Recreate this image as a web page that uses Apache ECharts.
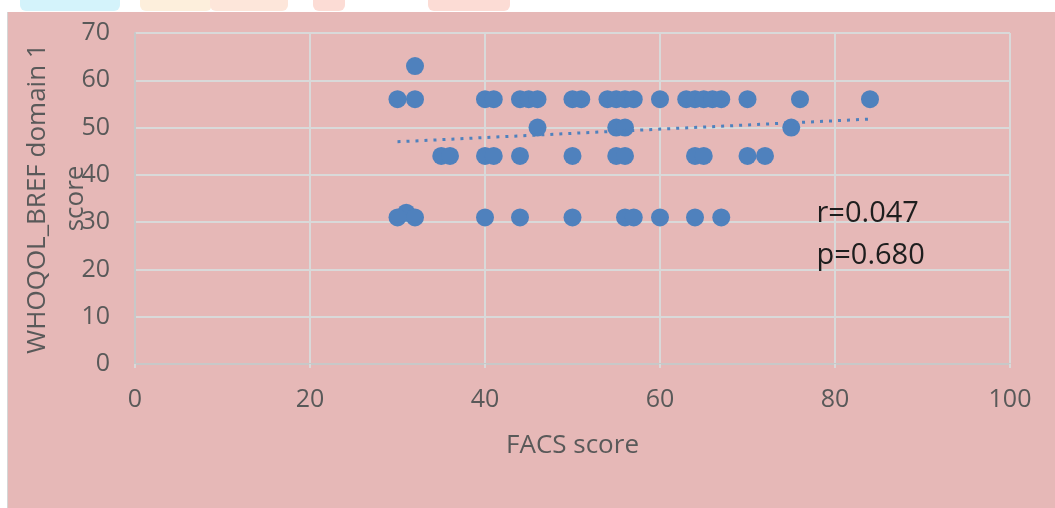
<!DOCTYPE html>
<html>
<head>
<meta charset="utf-8">
<script src="https://cdn.jsdelivr.net/npm/echarts@6/dist/echarts.min.js"></script>
<style>
  body { margin: 0; background: #fff; width: 1055px; height: 508px; overflow: hidden; position: relative; }
  .blob { position: absolute; top: 0; height: 11px; border-radius: 0 0 6px 6px; }
  #main { position: absolute; left: 7px; top: 12px; width: 1048px; height: 496px; background: #e6b8b7; border-left: 1px solid #d6d6d6; box-sizing: border-box; }
</style>
</head>
<body>
<div class="blob" style="left:20px;width:100px;background:#d4f3fb"></div>
<div class="blob" style="left:140px;width:72px;background:#fdefdc"></div>
<div class="blob" style="left:210px;width:78px;background:#fde6da"></div>
<div class="blob" style="left:313px;width:32px;background:#fcdcd5"></div>
<div class="blob" style="left:428px;width:82px;background:#fcdcd5"></div>
<div id="main"></div>
<script>
// FACS score vs WHOQOL_BREF domain 1 score
var y56 = [30, 32, 40, 41, 44, 45, 46, 50, 51, 54, 55, 56, 57, 60, 63, 64, 65, 66, 67, 70, 76, 84];
var y63 = [32];
var y50 = [46, 55, 56, 75];
var y44 = [35, 36, 40, 41, 44, 50, 55, 56, 64, 65, 70, 72];
var y32 = [31];
var y31 = [30, 32, 40, 44, 50, 56, 57, 60, 64, 67];

// trendline end points
var trendX = [30, 84];
var trendY = [47.0, 51.8];

var xTicks = [0, 20, 40, 60, 80, 100];
var yTicks = [0, 10, 20, 30, 40, 50, 60, 70];

var points = [];
function addRow(xs, y) {
  for (var i = 0; i < xs.length; i++) points.push([xs[i], y]);
}
addRow(y56, 56);
addRow(y63, 63);
addRow(y50, 50);
addRow(y44, 44);
addRow(y32, 32);
addRow(y31, 31);

var trend = [];
for (var i = 0; i < trendX.length; i++) trend.push([trendX[i], trendY[i]]);

var font = "'Open Sans', sans-serif";
var myChart = echarts.init(document.getElementById("main"));
myChart.setOption({
  animation: false,
  grid: { left: 127, right: 45, top: 21, bottom: 144, containLabel: false, outerBoundsMode: "none" },
  xAxis: {
    type: "value",
    min: xTicks[0],
    max: xTicks[xTicks.length - 1],
    interval: 20,
    name: "FACS score",
    nameLocation: "middle",
    nameGap: 69,
    nameMoveOverlap: false,
    nameTextStyle: { color: "#595959", fontSize: 26, fontFamily: font },
    axisLine: { show: true, lineStyle: { color: "#c8c8c8", width: 2 } },
    axisTick: { show: true, length: 4, lineStyle: { color: "#d9d9d9", width: 2 } },
    axisLabel: { color: "#595959", fontSize: 25, fontFamily: font, margin: 23 },
    splitLine: { show: true, lineStyle: { color: "#d9d9d9", width: 2 } }
  },
  yAxis: {
    type: "value",
    min: yTicks[0],
    max: yTicks[yTicks.length - 1],
    interval: 10,
    name: "WHOQOL_BREF domain 1\nscore",
    nameLocation: "middle",
    nameRotate: 90,
    nameGap: 40,
    nameMoveOverlap: false,
    nameTextStyle: { color: "#595959", fontSize: 26, fontFamily: font, lineHeight: 38 },
    axisLine: { show: true, lineStyle: { color: "#c8c8c8", width: 2 } },
    axisTick: { show: false },
    axisLabel: { color: "#595959", fontSize: 25, fontFamily: font, margin: 25 },
    splitLine: { show: true, lineStyle: { color: "#d9d9d9", width: 2 } }
  },
  series: [
    {
      type: "scatter",
      data: points,
      symbolSize: 18,
      itemStyle: { color: "#4f81bd", opacity: 1 },
      z: 3
    },
    {
      type: "line",
      data: trend,
      symbol: "none",
      lineStyle: { color: "#4f81bd", width: 3, type: [3, 6] },
      z: 4
    }
  ]
});

// r / p annotation anchored at data coords
var pos = myChart.convertToPixel({ gridIndex: 0 }, [78, 31.5]);
myChart.setOption({
  graphic: [{
    type: "text",
    x: pos[0] - 1,
    y: pos[1] - 22,
    style: {
      text: "r=0.047\np=0.680",
      fill: "#1e1e1e",
      font: "29px " + font,
      lineHeight: 42,
      verticalAlign: "top",
      textAlign: "left"
    }
  }]
});
</script>
</body>
</html>
